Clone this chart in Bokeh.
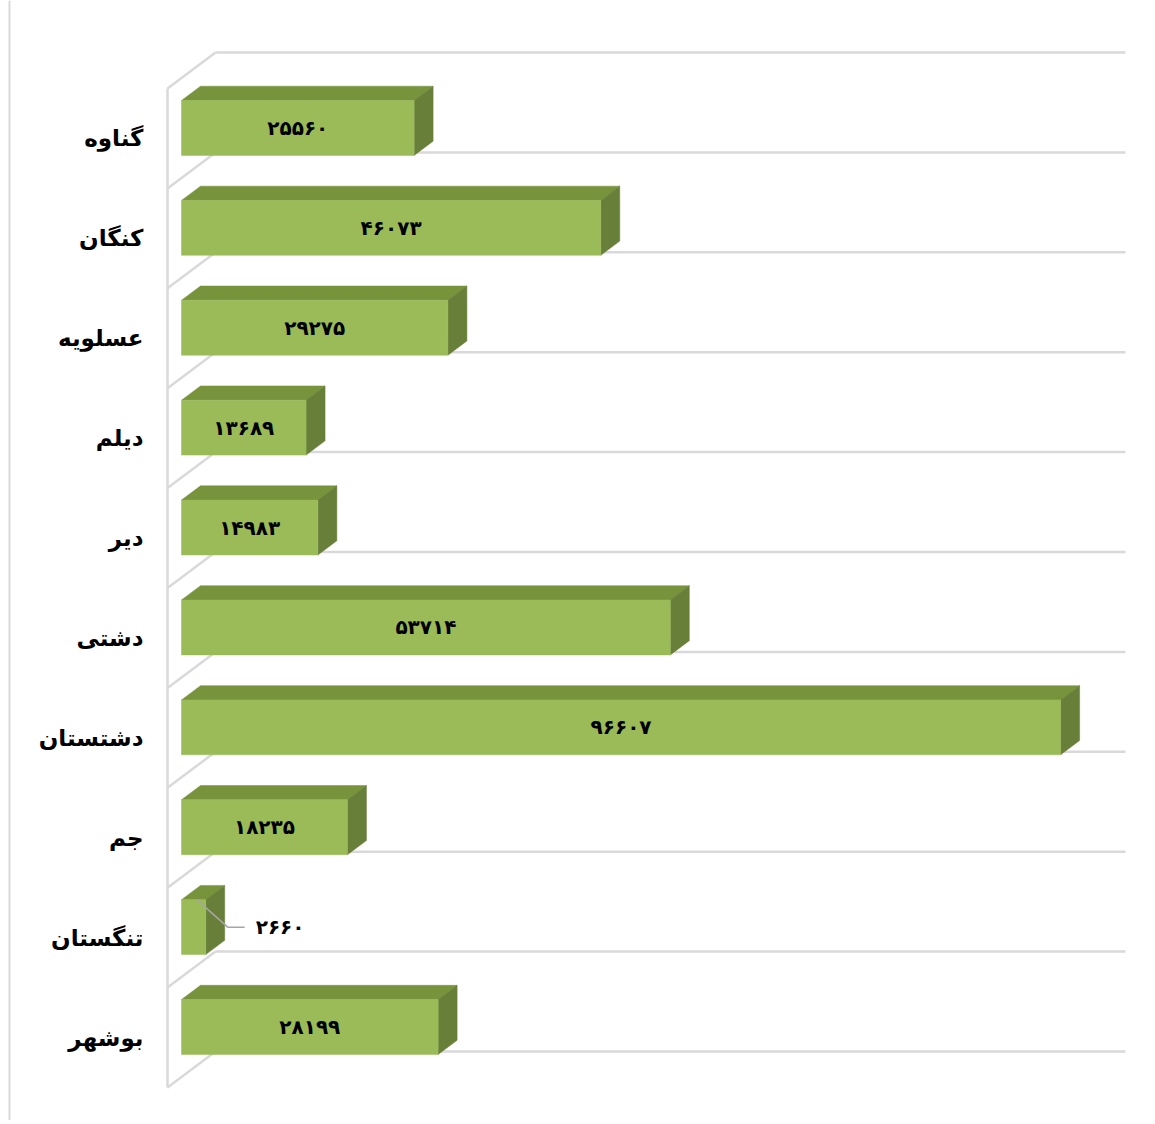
from bokeh.plotting import figure
from bokeh.models import Range1d, Span
from bokeh.core.properties import value
from bokeh.embed import file_html
from bokeh.resources import INLINE

# ---- data ----
categories = ["گناوه", "کنگان", "عسلویه", "دیلم", "دیر", "دشتی", "دشتستان", "جم", "تنگستان", "بوشهر"]
values = [25560, 46073, 29275, 13689, 14983, 53714, 96607, 18235, 2660, 28199]
axis_max = 100000

FA_DIGITS = str.maketrans("0123456789", "۰۱۲۳۴۵۶۷۸۹")
labels = [str(v).translate(FA_DIGITS) for v in values]

# ---- layout / style ----
W, H = 1150, 1120
PAGE = 0                  # observed page offset of the figure
X0, Y0 = 167, 88          # page px of front-plane origin (value 0, top of first category)
S = 910 / axis_max        # px per value unit
CH = 99.9                 # px per category
WALL_D = 48               # depth of back wall (px in x)
DY_RATIO = 0.75           # vertical px per depth px
BZ1, BZ2 = 14, 33         # bar depth (front, back)
BAR_T, BAR_B = 0.225, 0.775

FRONT = "#9BBB59"
TOP = "#77933C"
SIDE = "#687F39"
GRID = "#D9D9D9"
FONT = "DejaVu Sans"

n = len(categories)

def P(v, yc, z):
    return v + z / S, yc - DY_RATIO * z / CH

p = figure(width=W, height=H, output_backend="svg", toolbar_location=None,
           x_range=Range1d((PAGE - X0) / S, (PAGE + W - X0) / S),
           y_range=Range1d(start=(PAGE + H - Y0) / CH, end=(PAGE - Y0) / CH),
           min_border=0)
p.axis.visible = False
p.grid.visible = False
p.outline_line_color = None
p.background_fill_color = "white"

# outer chart border (left)
p.add_layout(Span(location=(9 - X0) / S, dimension="height",
                  line_color=GRID, line_width=2))

# back wall gridlines
gx, gy = [], []
for k in range(n + 1):
    a = P(0, k, WALL_D)
    b = P(axis_max, k, WALL_D)
    gx.append([a[0], b[0]]); gy.append([a[1], b[1]])
# left wall
a = P(0, 0, 0); b = P(0, n, 0)
gx.append([a[0], b[0]]); gy.append([a[1], b[1]])
for k in range(n + 1):
    a = P(0, k, 0); b = P(0, k, WALL_D)
    gx.append([a[0], b[0]]); gy.append([a[1], b[1]])
p.multi_line(gx, gy, line_color=GRID, line_width=2.5)

# bars
fx, fy, tx, ty, sx, sy = [], [], [], [], [], []
for i, v in enumerate(values):
    yt, yb = i + BAR_T, i + BAR_B
    pts = [P(0, yt, BZ1), P(v, yt, BZ1), P(v, yb, BZ1), P(0, yb, BZ1)]
    fx.append([q[0] for q in pts]); fy.append([q[1] for q in pts])
    pts = [P(0, yt, BZ1), P(v, yt, BZ1), P(v, yt, BZ2), P(0, yt, BZ2)]
    tx.append([q[0] for q in pts]); ty.append([q[1] for q in pts])
    pts = [P(v, yt, BZ1), P(v, yt, BZ2), P(v, yb, BZ2), P(v, yb, BZ1)]
    sx.append([q[0] for q in pts]); sy.append([q[1] for q in pts])
p.patches(tx, ty, fill_color=TOP, line_color=TOP, line_width=0.5)
p.patches(sx, sy, fill_color=SIDE, line_color=SIDE, line_width=0.5)
p.patches(fx, fy, fill_color=FRONT, line_color=FRONT, line_width=0.5)

# data labels
in_x, in_y, in_t = [], [], []
out_x, out_y, out_t = [], [], []
lx, ly = [], []
for i, v in enumerate(values):
    cx, cy = P(v / 2, i + 0.5, BZ1)
    if v * S > 70:
        in_x.append(cx); in_y.append(cy); in_t.append(labels[i])
    else:
        ex, ey = P(v, i + 0.5, BZ1)
        tyy = P(v, i + BAR_T, BZ1)[1]
        out_x.append(ex); out_y.append(ey); out_t.append(labels[i])
        lx.append([ex - 9 / S, ex + 22 / S, ex + 39 / S])
        ly.append([tyy, ey, ey])
p.text(in_x, in_y, text=in_t, text_align="center", text_baseline="middle",
       text_font=value(FONT), text_font_style="bold", text_font_size="20px",
       text_color="black")
p.multi_line(lx, ly, line_color="#A6A6A6", line_width=1.5)
p.text(out_x, out_y, text=out_t, text_align="left", text_baseline="middle",
       x_offset=50, text_font=value(FONT), text_font_style="bold",
       text_font_size="20px", text_color="black")

# category labels
cxs, cys = [], []
for i in range(n):
    x, y = P(0, i + 0.5, 0)
    cxs.append(x); cys.append(y)
p.text(cxs, cys, text=categories, text_align="right", text_baseline="middle",
       x_offset=-24, text_font=value(FONT), text_font_style="bold",
       text_font_size="23px", text_color="black")

open("out.html", "w").write(file_html(p, INLINE))
